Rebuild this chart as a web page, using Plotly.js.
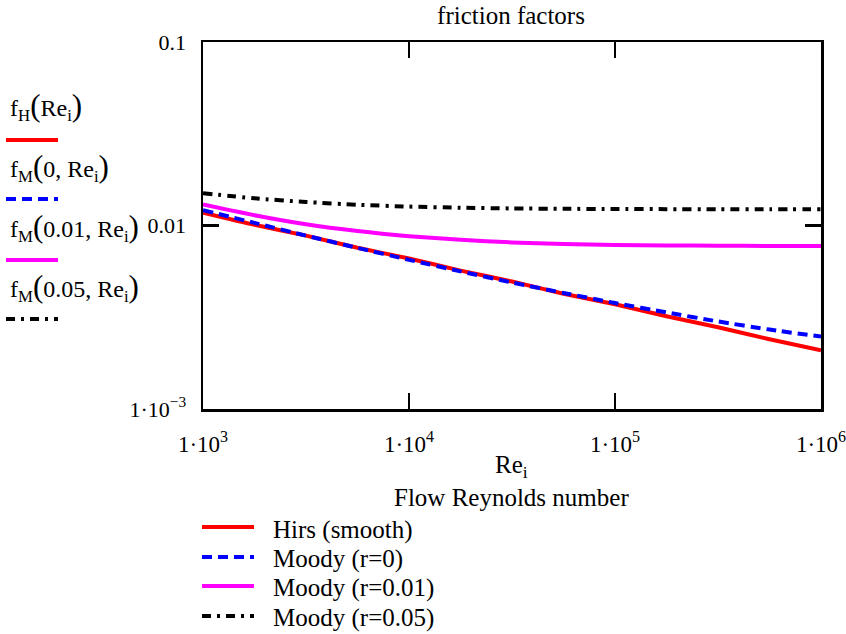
<!DOCTYPE html>
<html>
<head>
<meta charset="utf-8">
<script src="https://cdn.plot.ly/plotly-3.0.1.min.js"></script>
<style>html,body{margin:0;padding:0;background:#fff;}#chart{width:846px;height:634px;}</style>
</head>
<body>
<div id="chart"></div>
<script>
// Reynolds numbers (quarter decades from 1e3 to 1e6)
const reynolds = [1000, 1778, 3162, 5623, 10000, 17783, 31623, 56234, 100000, 177828, 316228, 562341, 1000000];
// Hirs smooth-pipe friction factor
const hirsSmooth = [0.01175, 0.01009, 0.00881, 0.00756, 0.00661, 0.00568, 0.00495, 0.00425, 0.00372, 0.00320, 0.00279, 0.00240, 0.00209];
// Moody, relative roughness r = 0
const moodyR0 = [0.01213, 0.01033, 0.00881, 0.00755, 0.00650, 0.00562, 0.00489, 0.00429, 0.00378, 0.00336, 0.00300, 0.00271, 0.00248];
// Moody, r = 0.01
const moodyR001 = [0.01303, 0.01138, 0.01016, 0.00933, 0.00875, 0.00836, 0.00809, 0.00793, 0.00783, 0.00778, 0.00776, 0.00774, 0.00774];
// Moody, r = 0.05
const moodyR005 = [0.01498, 0.01406, 0.01343, 0.01297, 0.01268, 0.01250, 0.01239, 0.01233, 0.01230, 0.01228, 0.01227, 0.01226, 0.01225];

const seriesNames = ["Hirs (smooth)", "Moody (r=0)", "Moody (r=0.01)", "Moody (r=0.05)"];
const BIGL = '<span style="font-size:31px">(</span>';
const BIGR = '<span style="font-size:31px">)</span>';
const sideLabels = [
  "f<sub>H</sub>" + BIGL + "Re<sub>i</sub>" + BIGR,
  "f<sub>M</sub>" + BIGL + "0, Re<sub>i</sub>" + BIGR,
  "f<sub>M</sub>" + BIGL + "0.01, Re<sub>i</sub>" + BIGR,
  "f<sub>M</sub>" + BIGL + "0.05, Re<sub>i</sub>" + BIGR
];
const xTickVals = [1000, 10000, 100000, 1000000];
const xTickText = ["1·10<sup>3</sup>", "1·10<sup>4</sup>", "1·10<sup>5</sup>", "1·10<sup>6</sup>"];
const yTickVals = [0.001, 0.01, 0.1];
const yTickText = ["1·10<sup>−3</sup>", "0.01", "0.1"];

const colors = ["#ff0000", "#0000ff", "#ff00ff", "#000000"];
const dashes = ["solid", "10px,6px", "solid", "9px,6px,3px,6px"];
const values = [hirsSmooth, moodyR0, moodyR001, moodyR005];

const FONT = "Liberation Serif";

const traces = values.map((v, i) => ({
  x: reynolds,
  y: v,
  type: "scatter",
  mode: "lines",
  name: seriesNames[i],
  showlegend: false,
  line: {color: colors[i], width: 4, dash: dashes[i], shape: "spline", smoothing: 0.6}
}));

const annotations = [];
const shapes = [];
const toPX = px => (px - 203) / 618;
const toPY = py => (409 - py) / 367;

// left-side Mathcad style trace labels
const labelY = [106, 167, 227, 287];
const lineY = [140, 199, 260, 319];
sideLabels.forEach((t, i) => {
  annotations.push({
    xref: "paper", yref: "paper", x: toPX(8), y: toPY(labelY[i]),
    xanchor: "left", yanchor: "middle", showarrow: false,
    text: t, font: {family: FONT, size: 24, color: "#000"}
  });
  shapes.push({
    type: "line", xref: "paper", yref: "paper",
    x0: toPX(6), x1: toPX(58), y0: toPY(lineY[i]), y1: toPY(lineY[i]),
    line: {color: colors[i], width: 4, dash: dashes[i]}
  });
});

// bottom legend
const legLineY = [527, 557, 586, 616];
const legTextY = [530, 559, 588, 618];
seriesNames.forEach((t, i) => {
  annotations.push({
    xref: "paper", yref: "paper", x: toPX(271), y: toPY(legTextY[i]),
    xanchor: "left", yanchor: "middle", showarrow: false,
    text: t, font: {family: FONT, size: 25, color: "#000"}
  });
  shapes.push({
    type: "line", xref: "paper", yref: "paper",
    x0: toPX(202), x1: toPX(254), y0: toPY(legLineY[i]), y1: toPY(legLineY[i]),
    line: {color: colors[i], width: 4, dash: dashes[i]}
  });
});

// x axis title (two lines)
annotations.push({
  xref: "paper", yref: "paper", x: toPX(511), y: toPY(467),
  xanchor: "center", yanchor: "middle", showarrow: false,
  text: "Re<sub>i</sub>", font: {family: FONT, size: 25, color: "#000"}
});
annotations.push({
  xref: "paper", yref: "paper", x: toPX(511), y: toPY(498),
  xanchor: "center", yanchor: "middle", showarrow: false,
  text: "Flow Reynolds number", font: {family: FONT, size: 25, color: "#000"}
});

const layout = {
  width: 846, height: 634,
  margin: {l: 203, r: 25, t: 42, b: 225},
  paper_bgcolor: "#fff", plot_bgcolor: "#fff",
  font: {family: FONT, size: 22, color: "#000"},
  title: {text: "friction factors", font: {family: FONT, size: 25, color: "#000"},
          x: 511 / 846, xanchor: "center", xref: "container",
          y: 1 - 15 / 634, yanchor: "middle", yref: "container"},
  xaxis: {
    type: "log", range: [3, 6],
    tickvals: xTickVals, ticktext: xTickText,
    ticks: "inside", ticklen: 16, tickwidth: 2.5, tickcolor: "#000",
    showline: true, linecolor: "#000", linewidth: 2.5, mirror: "ticks",
    showgrid: false, zeroline: false,
    ticklabelstandoff: 13,
    ticklabeloverflow: "allow",
    tickfont: {family: FONT, size: 23, color: "#000"},
    automargin: false
  },
  yaxis: {
    type: "log", range: [-3, -1],
    tickvals: yTickVals, ticktext: yTickText,
    ticks: "inside", ticklen: 16, tickwidth: 2.5, tickcolor: "#000",
    showline: true, linecolor: "#000", linewidth: 2.5, mirror: "ticks",
    showgrid: false, zeroline: false,
    ticklabelstandoff: 10,
    ticklabeloverflow: "allow",
    tickfont: {family: FONT, size: 22, color: "#000"},
    automargin: false
  },
  showlegend: false,
  annotations: annotations,
  shapes: shapes
};

Plotly.newPlot("chart", traces, layout, {displayModeBar: false, staticPlot: true});
</script>
</body>
</html>
